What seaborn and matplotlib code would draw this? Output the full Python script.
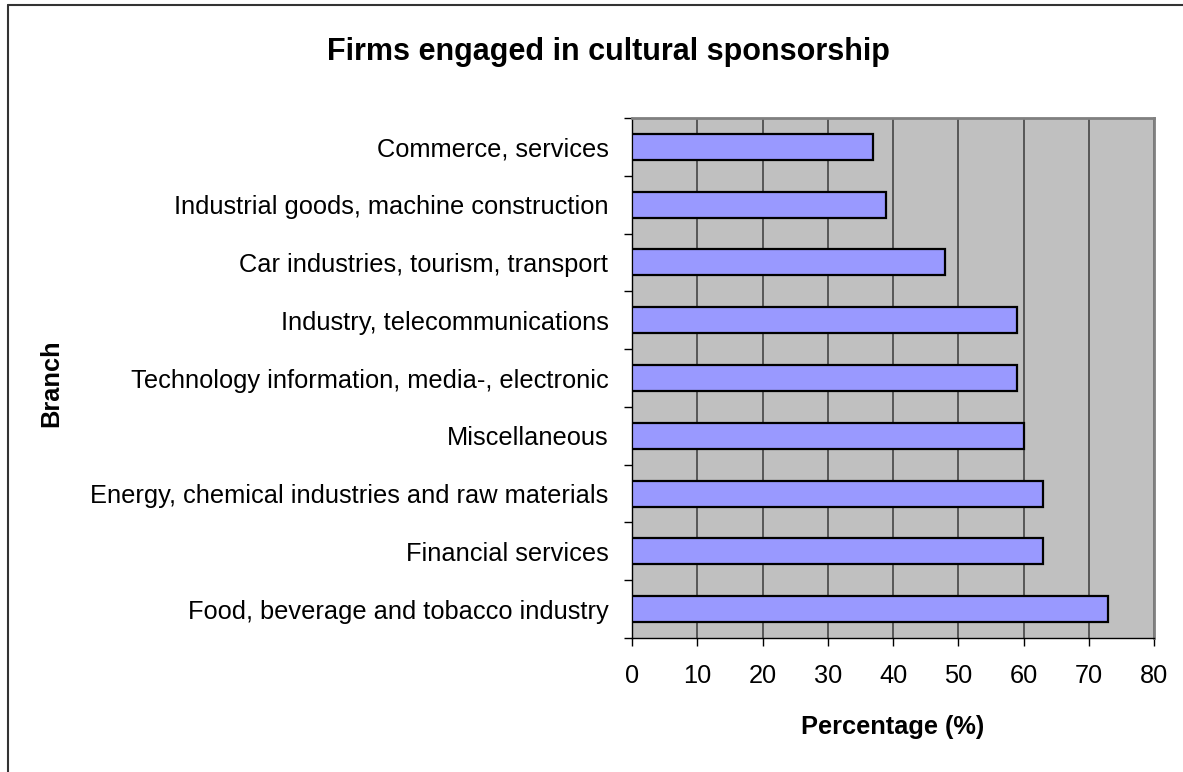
import matplotlib
matplotlib.use("Agg")
import matplotlib.pyplot as plt
from matplotlib.lines import Line2D
from matplotlib.ticker import FixedLocator
import seaborn as sns
import pandas as pd
import numpy as np

branches = [
    "Commerce, services",
    "Industrial goods, machine construction",
    "Car industries, tourism, transport",
    "Industry, telecommunications",
    "Technology information, media-, electronic",
    "Miscellaneous",
    "Energy, chemical industries and raw materials",
    "Financial services",
    "Food, beverage and tobacco industry",
]
percentages = [37, 39, 48, 59, 59, 60, 63, 63, 73]
x_ticks = [0, 10, 20, 30, 40, 50, 60, 70, 80]

df = pd.DataFrame({"Branch": branches, "Percentage": percentages})

sns.set_style("white")
plt.rcParams["font.family"] = ["Liberation Sans", "DejaVu Sans"]
plt.rcParams["text.color"] = "black"
plt.rcParams["axes.labelcolor"] = "black"
plt.rcParams["xtick.color"] = "black"
plt.rcParams["ytick.color"] = "black"

fig = plt.figure(figsize=(11.83, 7.72), dpi=100)
W, H = 1183, 772
ax = fig.add_axes([632 / W, 1 - 638 / H, (1154 - 632) / W, (638 - 118) / H])

sns.barplot(data=df, x="Percentage", y="Branch", orient="h", color="#9999FF",
            saturation=1, edgecolor="black", linewidth=1.6, width=0.45, ax=ax, zorder=3)

ax.set_facecolor("#C0C0C0")
ax.set_xlim(0, 80)
ax.set_ylim(len(branches) - 0.5, -0.5)
ax.set_xticks(x_ticks)
ax.set_xticklabels([str(t) for t in x_ticks])
ax.xaxis.grid(True, color="#3a3a3a", linewidth=1.1, zorder=1)
ax.yaxis.grid(False)
ax.set_axisbelow(True)

ax.tick_params(axis="both", which="both", bottom=True, left=True, top=False, right=False)
ax.tick_params(axis="y", which="major", length=0, labelsize=18.3, pad=17, labelcolor="black")
ax.yaxis.set_minor_locator(FixedLocator(np.arange(-0.5, len(branches), 1.0)))
ax.tick_params(axis="y", which="minor", length=6, width=1, color="black", direction="out")
ax.tick_params(axis="x", which="major", length=6, width=1, color="black",
               direction="out", pad=13, labelsize=18.3, labelcolor="black")
ax.xaxis.set_minor_locator(FixedLocator([]))

for side in ["top", "right"]:
    ax.spines[side].set_color("#808080")
    ax.spines[side].set_linewidth(2)
for side in ["left", "bottom"]:
    ax.spines[side].set_color("black")
    ax.spines[side].set_linewidth(1)

ax.set_xlabel("")
ax.set_ylabel("")
fig.text(893 / W, 1 - 727 / H, "Percentage (%)", fontsize=18.3, fontweight="bold",
         ha="center", va="center", color="black")
fig.text(51 / W, 1 - 383 / H, "Branch", rotation=90, fontsize=18.3, fontweight="bold",
         ha="center", va="center", color="black")
fig.text(608 / W, 1 - 52 / H, "Firms engaged in cultural sponsorship", fontsize=22,
         fontweight="bold", ha="center", va="center", color="black")

fig.add_artist(Line2D([8 / W, 1], [1 - 5 / H, 1 - 5 / H], color="#333333", linewidth=1.5,
                      transform=fig.transFigure))
fig.add_artist(Line2D([8 / W, 8 / W], [0, 1 - 5 / H], color="#333333", linewidth=1.5,
                      transform=fig.transFigure))

fig.savefig("out.png", dpi=100)
